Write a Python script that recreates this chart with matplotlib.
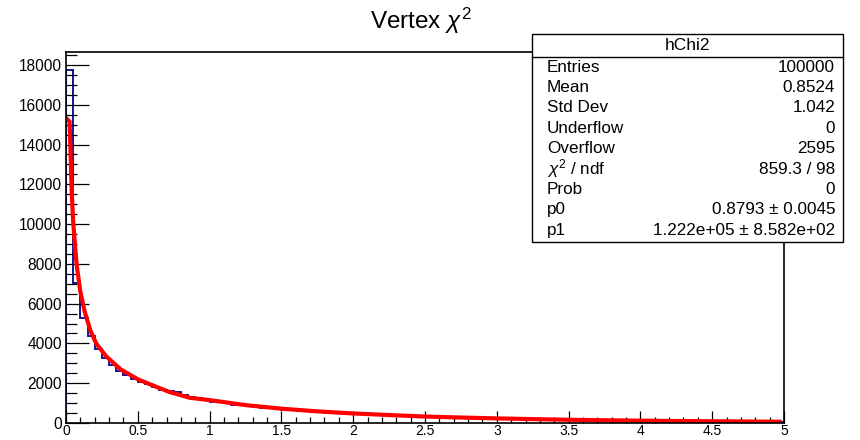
import matplotlib
matplotlib.use("Agg")
import matplotlib.pyplot as plt
import numpy as np
from matplotlib.patches import Rectangle
from matplotlib.ticker import MultipleLocator

plt.rcParams['font.family'] = ['Liberation Sans', 'DejaVu Sans']
plt.rcParams['mathtext.fontset'] = 'custom'
plt.rcParams['mathtext.rm'] = 'Liberation Sans'
plt.rcParams['mathtext.it'] = 'Liberation Sans:italic'

# ---- data ----
bin_lo = 0.0
bin_hi = 5.0
hist_counts = [
    17750, 7050, 5280, 4370, 3700, 3250, 2920, 2600, 2420, 2230,
    2050, 1950, 1800, 1680, 1600, 1560, 1420, 1300, 1280, 1180,
    1070, 1040, 990, 920, 900, 840, 800, 770, 740, 700,
    670, 650, 620, 620, 570, 550, 520, 505, 480, 470,
    450, 430, 410, 395, 380, 360, 345, 335, 320, 305,
    295, 285, 272, 262, 250, 240, 232, 224, 215, 205,
    198, 190, 183, 176, 170, 163, 157, 152, 146, 141,
    136, 131, 126, 122, 118, 113, 109, 106, 102, 98,
    95, 92, 88, 86, 83, 80, 77, 75, 72, 70,
    68, 65, 63, 61, 59, 57, 55, 53, 51, 49,
]
fit_x = [0.005, 0.025, 0.04, 0.05, 0.063, 0.075, 0.1, 0.13, 0.17, 0.21,
         0.28, 0.38, 0.5, 0.6, 0.72, 0.86, 1.0, 1.25, 1.5, 1.75,
         2.0, 2.25, 2.5, 2.75, 3.0, 3.25, 3.5, 3.75, 4.0, 4.25,
         4.5, 4.75, 4.97]
fit_y = [15300, 15150, 11600, 10100, 8900, 7900, 6600, 5600, 4650, 4000,
         3350, 2700, 2200, 1900, 1560, 1270, 1150, 900, 720, 585,
         480, 400, 325, 275, 232, 195, 162, 138, 118, 100,
         86, 75, 65]

stats_labels = ["Entries", "Mean", "Std Dev", "Underflow", "Overflow",
                r"$\chi^2$ / ndf", "Prob", "p0", "p1"]
stats_values = ["100000", "0.8524", "1.042", "0", "2595",
                "859.3 / 98", "0", "0.8793 \u00b1 0.0045",
                "1.222e+05 \u00b1 8.582e+02"]
hist_name = "hChi2"
title = r"Vertex $\chi^2$"

# ---- figure ----
W, H = 860, 440
fig = plt.figure(figsize=(W / 100, H / 100), dpi=100)
L, R, B, T = 66, 784, 423, 52
ax = fig.add_axes([L / W, 1 - B / H, (R - L) / W, (B - T) / H])

edges = np.linspace(bin_lo, bin_hi, len(hist_counts) + 1)
ax.stairs(hist_counts, edges, color='#000099', linewidth=1.3, baseline=0)
ax.plot(fit_x, fit_y, color='#ff0000', linewidth=3.0, solid_joinstyle='miter')

ax.set_xlim(0, 5)
ax.set_ylim(0, 18650)
for s in ax.spines.values():
    s.set_linewidth(1.2)
    s.set_color('black')

ax.xaxis.set_major_locator(MultipleLocator(0.5))
ax.xaxis.set_minor_locator(MultipleLocator(0.1))
ax.yaxis.set_major_locator(MultipleLocator(2000))
ax.yaxis.set_minor_locator(MultipleLocator(500))
ax.tick_params(axis='x', which='major', direction='in', length=8.6, width=0.9,
               labelsize=10, pad=1, top=False)
ax.tick_params(axis='x', which='minor', direction='in', length=4.3, width=0.9, top=False)
ax.tick_params(axis='y', which='major', direction='in', length=16.5, width=0.9,
               labelsize=11.2, pad=3, right=False)
ax.tick_params(axis='y', which='minor', direction='in', length=8, width=0.9, right=False)
ax.xaxis.set_major_formatter(matplotlib.ticker.FuncFormatter(lambda v, p: f"{v:g}"))

fig.text(421 / W, 1 - 28.5 / H, title, ha='center', va='baseline', fontsize=17.5)

# ---- stats box (overlay in pixel coordinates) ----
ov = fig.add_axes([0, 0, 1, 1], zorder=5)
ov.set_xlim(0, W)
ov.set_ylim(H, 0)
ov.axis('off')
bx0, bx1, by0, by1 = 532, 843, 34, 242
ov.add_patch(Rectangle((bx0, by0), bx1 - bx0, by1 - by0, facecolor='white',
                       edgecolor='black', linewidth=1.0))
ov.plot([bx0, bx1], [57, 57], color='black', linewidth=1.0)
ov.text((bx0 + bx1) / 2, 46, hist_name, ha='center', va='center', fontsize=12.5)
row0, dy = 67, 20.4
for i, (lab, val) in enumerate(zip(stats_labels, stats_values)):
    y = row0 + i * dy
    ov.text(547, y, lab, ha='left', va='center', fontsize=12.3)
    ov.text(835, y, val, ha='right', va='center', fontsize=12.3)

fig.savefig("out.png", dpi=100)
